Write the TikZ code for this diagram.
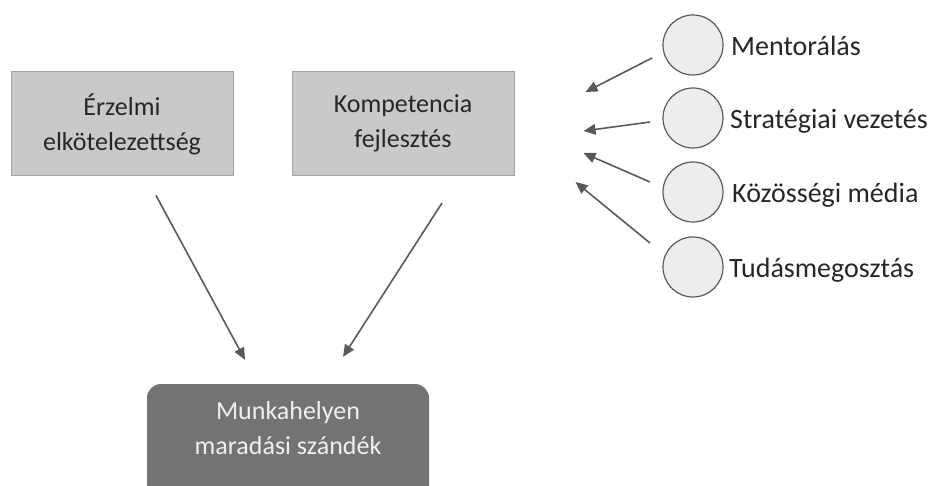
\documentclass[tikz,border=0pt]{standalone}
\usepackage{fontspec}
\setmainfont{Carlito}
\usetikzlibrary{arrows.meta,calc}
\definecolor{boxfill}{HTML}{C9C9C9}
\definecolor{boxline}{HTML}{A3A3A3}
\definecolor{botfill}{HTML}{737373}
\definecolor{bottxt}{HTML}{F0F0F0}
\definecolor{circfill}{HTML}{EDEDED}
\definecolor{circline}{HTML}{5A5A5A}
\definecolor{arrcol}{HTML}{595959}
\definecolor{txt}{HTML}{262626}
\begin{document}
\begin{tikzpicture}[x=1pt,y=-1pt,
  boxnode/.style={draw=boxline, fill=boxfill, line width=1pt, minimum width=222pt, minimum height=104pt, align=center, text=txt, font=\fontsize{26}{35}\selectfont},
  botbox/.style={fill=botfill, rounded corners=14pt, minimum width=282pt, minimum height=120pt, inner sep=0pt},
  bottext/.style={align=center, text=bottxt, font=\fontsize{26}{35}\selectfont},
  circ/.style={circle, draw=circline, fill=circfill, line width=1.2pt, minimum size=60pt, inner sep=0pt},
  lbl/.style={anchor=base west, inner sep=0pt, text=txt, font=\fontsize{28}{34}\selectfont},
  arr/.style={draw=arrcol, line width=1.6pt, -{Triangle[length=12pt,width=10.5pt]}}]
\useasboundingbox (0,0) rectangle (934,486);
\clip (0,0) rectangle (934,486);

\node (e) [boxnode] at (122,124) {Érzelmi\\elkötelezettség};
\node (k) [boxnode] at (403,123.5) {Kompetencia\\fejlesztés};
\node (m) [botbox] at (288,444) {};
\node (mt) [bottext] at (288,428) {Munkahelyen\\maradási szándék};

\node (c1) [circ] at (693,45) {};
\node (c2) [circ] at (693,118) {};
\node (c3) [circ] at (693,192) {};
\node (c4) [circ] at (693,267) {};

\node (l1) [lbl] at (731,56) {Mentorálás};
\node (l2) [lbl] at (730,129) {Stratégiai vezetés};
\node (l3) [lbl] at (732,203) {Közösségi média};
\node (l4) [lbl] at (729,278) {Tudásmegosztás};

\draw[arr] ($(c1.center)+(-41,13)$) -- ($(k.east)+(71,-31.5)$);
\draw[arr] ($(c2.center)+(-43,4)$) -- ($(k.east)+(69,7.5)$);
\draw[arr] ($(c3.center)+(-43,-10)$) -- ($(k.east)+(69,29.5)$);
\draw[arr] ($(c4.center)+(-43,-24)$) -- ($(k.east)+(61,58.5)$);

\draw[arr] ($(e.south)+(34,19)$) -- ($(m.north)+(-43,-24)$);
\draw[arr] ($(k.south)+(39,27)$) -- ($(m.north)+(55,-27)$);
\end{tikzpicture}
\end{document}
